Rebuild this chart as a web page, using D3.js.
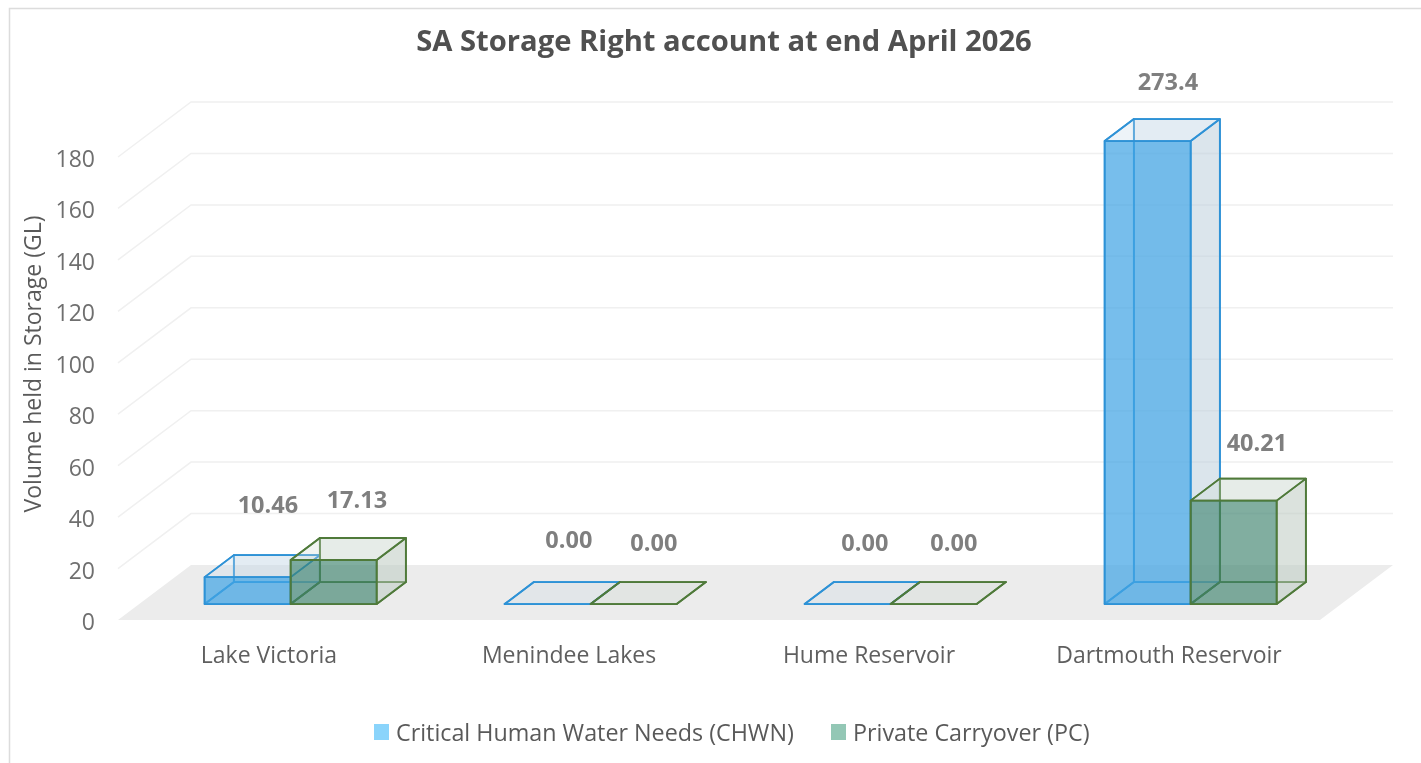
<!DOCTYPE html>
<html><head><meta charset="utf-8">
<script src="https://d3js.org/d3.v7.min.js"></script>
<style>html,body{margin:0;padding:0;background:#fff}svg{display:block;filter:blur(0.45px)}text{font-family:"Open Sans",sans-serif}</style>
</head><body><svg id="c" width="1421" height="763"></svg>
<script>
const title = "SA Storage Right account at end April 2026";
const yAxisTitle = "Volume held in Storage (GL)";
const categories = ["Lake Victoria","Menindee Lakes","Hume Reservoir","Dartmouth Reservoir"];
const seriesNames = ["Critical Human Water Needs (CHWN)","Private Carryover (PC)"];
const chwnValues = [10.46,0,0,273.4];
const pcValues = [17.13,0,0,40.21];
const chwnLabels = ["10.46","0.00","0.00","273.4"];
const pcLabels = ["17.13","0.00","0.00","40.21"];
const yTicks = [0,20,40,60,80,100,120,140,160,180];
// hand-placed data label offsets relative to each bar's back top, as in the source
const chwnNudge = [[-9,-42],[-8,-34],[-12,-31],[-9,-29]];
const pcNudge = [[-6,-30],[-9,-31],[-9,-31],[-6,-28]];

const svg = d3.select("#c");
const x = d3.scaleBand().domain(categories).range([119,1319]);
const y = d3.scaleLinear().domain([0,180]).range([620,157]).clamp(true);
const depthX = d3.scaleLinear().domain([0,1]).range([0,73]);
const depthY = d3.scaleLinear().domain([0,1]).range([0,-55]);
const P = (px,v,z)=>[px+depthX(z), y(v)+depthY(z)];
const poly = pts => "M"+pts.map(p=>p.join(",")).join("L")+"Z";

// frame
svg.append("path").attr("d","M9.5,763V8.5H1421").attr("fill","none").attr("stroke","#dcdcdc").attr("stroke-width",1.5);

// grid
const x0=x.range()[0]-1, x1=x.range()[1]+1;
svg.append("g").selectAll("path").data(yTicks.slice(1)).join("path")
  .attr("d",t=>d3.line()([P(x0,t,0),P(x0,t,1),P(x1,t,1)]))
  .attr("fill","none").attr("stroke","#f0f0f0").attr("stroke-width",1.5);
// floor
svg.append("path").attr("d",poly([P(x0,0,0),P(x1,0,0),P(x1,0,1),P(x0,0,1)])).attr("fill","#ececec");

// tick labels
svg.append("g").selectAll("text").data(yTicks).join("text")
  .attr("x",95).attr("y",t=>y(t)+10).attr("text-anchor","end")
  .attr("fill","#6f6f6f").attr("font-size",23).text(d=>d);
svg.append("text").attr("transform","translate(41,364) rotate(-90)").attr("text-anchor","middle")
  .attr("fill","#5a5a5a").attr("font-size",23).text(yAxisTitle);
svg.append("g").selectAll("text").data(categories).join("text")
  .attr("x",c=>x(c)+x.bandwidth()/2).attr("y",663).attr("text-anchor","middle")
  .attr("fill","#5f5f5f").attr("font-size",23).text(d=>d);
svg.append("text").attr("x",724).attr("y",51).attr("text-anchor","middle")
  .attr("fill","#505050").attr("font-size",29.2).attr("font-weight",700).text(title);

// bars
const zFront=0.29, zBack=0.69;
const inner = d3.scaleBand().domain(seriesNames).range([0,172]);
const styles = [
 {stroke:"#2e92d6",front:"rgba(66,165,228,.72)",side:"rgba(190,208,222,.45)",top:"rgba(200,218,232,.32)",back:"rgba(190,208,222,.22)"},
 {stroke:"#4f7a3a",front:"rgba(60,130,110,.62)",side:"rgba(190,205,195,.45)",top:"rgba(205,218,210,.3)",back:"rgba(190,205,195,.22)"}
];
const bars = [];
categories.forEach((c,i)=>{
  const start = x(c)+x.bandwidth()/2-85.5;
  [chwnValues,pcValues].forEach((vals,s)=>{
    bars.push({c,s,v:vals[i],a:start+inner(seriesNames[s]),w:inner.bandwidth(),label:(s?pcLabels:chwnLabels)[i],n:(s?pcNudge:chwnNudge)[i]});
  });
});
const vy = v=>Math.min(v,180);
const g = svg.append("g");
bars.forEach(b=>{
  const st=styles[b.s], t=vy(b.v), l=b.a, r=b.a+b.w;
  const f=P;
  const face=(pts,fill)=>g.append("path").attr("d",poly(pts)).attr("fill",fill).attr("stroke",st.stroke).attr("stroke-width",1.8).attr("stroke-linejoin","round");
  face([f(l,0,zBack),f(r,0,zBack),f(r,t,zBack),f(l,t,zBack)],st.back);
  face([f(l,0,zFront),f(r,0,zFront),f(r,0,zBack),f(l,0,zBack)],st.back);
  face([f(l,0,zFront),f(l,0,zBack),f(l,t,zBack),f(l,t,zFront)],"none");
  face([f(r,0,zFront),f(r,0,zBack),f(r,t,zBack),f(r,t,zFront)],st.side);
  if(t>0) face([f(l,t,zFront),f(r,t,zFront),f(r,t,zBack),f(l,t,zBack)],st.top);
  face([f(l,0,zFront),f(r,0,zFront),f(r,t,zFront),f(l,t,zFront)],st.front);
});

// data labels
g.selectAll("text.dl").data(bars).join("text").attr("class","dl")
  .attr("x",b=>P(b.a+b.w/2,vy(b.v),zBack)[0]+b.n[0])
  .attr("y",b=>P(0,vy(b.v),zBack)[1]+b.n[1])
  .attr("text-anchor","middle").attr("fill","#7f7f7f").attr("font-size",23.5).attr("font-weight",700)
  .text(b=>b.label);

// legend
const lg = svg.append("g");
const swatch=["#8ad4fb","#93c7b5"];
const lx=[374,831];
seriesNames.forEach((n,i)=>{
  lg.append("rect").attr("x",lx[i]).attr("y",724).attr("width",15).attr("height",16).attr("fill",swatch[i]);
  lg.append("text").attr("x",lx[i]+22).attr("y",741).attr("fill","#595959").attr("font-size",23.3).text(n);
});
</script></body></html>
